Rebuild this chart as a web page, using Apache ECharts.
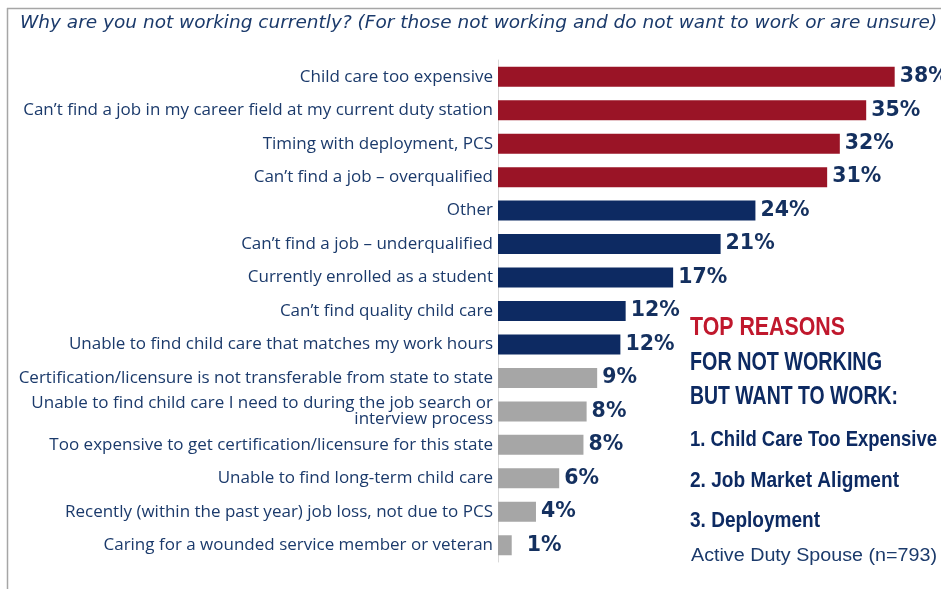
<!DOCTYPE html>
<html>
<head>
<meta charset="utf-8">
<script src="https://cdn.jsdelivr.net/npm/echarts@6/dist/echarts.min.js"></script>
<style>
html,body{margin:0;padding:0;background:#fff;}
#chart{width:941px;height:589px;}
</style>
</head>
<body>
<div id="chart"></div>
<script>
var categories = [
  "Child care too expensive",
  "Can\u2019t find a job in my career field at my current duty station",
  "Timing with deployment, PCS",
  "Can\u2019t find a job \u2013 overqualified",
  "Other",
  "Can\u2019t find a job \u2013 underqualified",
  "Currently enrolled as a student",
  "Can\u2019t find quality child care",
  "Unable to find child care that matches my work hours",
  "Certification/licensure is not transferable from state to state",
  "Unable to find child care I need to during the job search or\ninterview process",
  "Too expensive to get certification/licensure for this state",
  "Unable to find long-term child care",
  "Recently (within the past year) job loss, not due to PCS",
  "Caring for a wounded service member or veteran"
];
var values = [37.6, 34.9, 32.4, 31.2, 24.4, 21.1, 16.6, 12.1, 11.6, 9.4, 8.4, 8.1, 5.8, 3.6, 1.3];
var groups = ["top","top","top","top","mid","mid","mid","mid","mid","low","low","low","low","low","low"];
var groupColors = {top: "#9a1426", mid: "#0d2a62", low: "#a6a6a6"};
var sideTitle = ["TOP REASONS", "FOR NOT WORKING", "BUT WANT TO WORK:"];
var sideList = ["1. Child Care Too Expensive", "2. Job Market Aligment", "3. Deployment"];
var sideNote = "Active Duty Spouse (n=793)";
var chartTitle = "Why are you not working currently? (For those not working and do not want to work or are unsure)";

var navy = "#14305f";
var chart = echarts.init(document.getElementById('chart'), null, {renderer: 'canvas'});

var ctx = document.createElement('canvas').getContext('2d');
function fitText(text, font, targetW, x, yMid, fill) {
  ctx.font = font;
  var w = ctx.measureText(text).width;
  var sx = targetW / w;
  return {
    type: 'text', x: x, y: yMid, scaleX: sx, originX: 0, originY: 0,
    style: {text: text, fill: fill, font: font, textVerticalAlign: 'middle', textAlign: 'left'}
  };
}

var data = values.map(function (v, i) {
  var d = {value: v, itemStyle: {color: groupColors[groups[i]]}};
  if (v < 2) d.label = {distance: 15};
  return d;
});

var boldNarrow = 'bold 26px "Liberation Sans"';
var boldList = 'bold 21.5px "Liberation Sans"';

var option = {
  backgroundColor: '#ffffff',
  animation: false,
  title: {
    text: chartTitle,
    left: 20, top: 14, padding: 0,
    textStyle: {fontFamily: 'DejaVu Sans', fontStyle: 'italic', fontWeight: 'normal', fontSize: 18.5, color: '#1b3a6b'}
  },
  grid: {left: 498, top: 60, width: 422, height: 502, containLabel: false},
  xAxis: {type: 'value', min: 0, max: 40, show: false},
  yAxis: {
    type: 'category', inverse: true, data: categories,
    axisLine: {show: true, lineStyle: {color: '#d9d9d9', width: 1}},
    axisTick: {show: false},
    axisLabel: {color: '#1b3a6b', fontFamily: 'Open Sans', fontSize: 17, margin: 5, lineHeight: 16, interval: 0}
  },
  series: [{
    type: 'bar', data: data, barWidth: 20,
    label: {
      show: true, position: 'right', distance: 5,
      formatter: function (p) { return Math.round(p.value) + '%'; },
      color: navy, fontFamily: 'DejaVu Sans', fontWeight: 'bold', fontSize: 20.5
    }
  }],
  graphic: [
    {type: 'line', shape: {x1: 7, y1: 8.5, x2: 941, y2: 8.5}, style: {stroke: '#a6a6a6', lineWidth: 1.5}},
    {type: 'line', shape: {x1: 7.5, y1: 8, x2: 7.5, y2: 589}, style: {stroke: '#a6a6a6', lineWidth: 1.5}},
    fitText(sideTitle[0], boldNarrow, 155, 690, 328, '#c0182d'),
    fitText(sideTitle[1], boldNarrow, 192, 690, 363, '#0d2a62'),
    fitText(sideTitle[2], boldNarrow, 208, 690, 397, '#0d2a62'),
    fitText(sideList[0], boldList, 247, 690, 440, '#0d2a62'),
    fitText(sideList[1], boldList, 209, 690, 481, '#0d2a62'),
    fitText(sideList[2], boldList, 130, 690, 521, '#0d2a62'),
    fitText(sideNote, '17.5px "Liberation Sans"', 246, 691, 556, '#1b3a6b')
  ]
};
chart.setOption(option);
</script>
</body>
</html>
